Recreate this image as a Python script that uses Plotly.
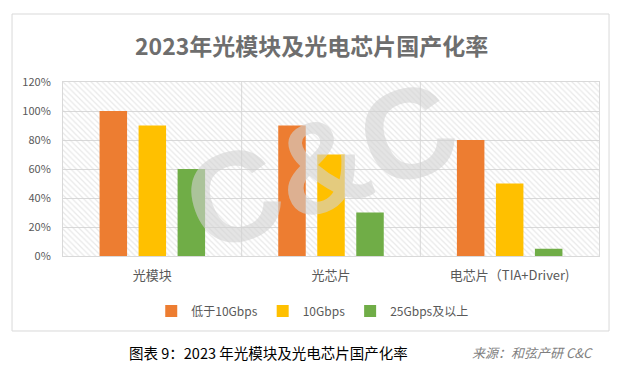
import plotly.graph_objects as go

categories = ["光模块", "光芯片", "电芯片（TIA+Driver)"]
series_names = ["低于10Gbps", "10Gbps", "25Gbps及以上"]
below_10g = [100, 90, 80]
g10 = [90, 70, 50]
g25_plus = [60, 30, 5]
colors = ["#ED7D31", "#FFC000", "#70AD47"]
y_ticks = [0, 20, 40, 60, 80, 100, 120]
y_tick_labels = ["0%", "20%", "40%", "60%", "80%", "100%", "120%"]

FONT = "Noto Sans CJK SC"
GRAY = "#595959"

fig = go.Figure()

# hatched background (base axes)
fig.add_trace(go.Bar(
    x=[1], y=[120], width=[3], xaxis="x", yaxis="y",
    marker=dict(color="rgba(0,0,0,0)", line=dict(width=0),
                pattern=dict(shape="\\", fgcolor="#d2d2d2", bgcolor="rgba(0,0,0,0)",
                             size=4, solidity=0.3)),
    showlegend=False, hoverinfo="skip"))

xs = [0, 1, 2]
for name, vals, col in zip(series_names, [below_10g, g10, g25_plus], colors):
    fig.add_trace(go.Bar(x=xs, y=vals, name=name, marker=dict(color=col, line=dict(width=0)),
                         xaxis="x2", yaxis="y2"))

fig.update_layout(
    width=624, height=372,
    margin=dict(l=55, r=33, t=74, b=124),
    paper_bgcolor="white", plot_bgcolor="rgba(0,0,0,0)",
    barmode="group", bargap=0.345, bargroupgap=0.295,
    font=dict(family=FONT, color=GRAY, size=11),
    xaxis=dict(range=[-0.5, 2.5], tickvals=xs, ticktext=categories, showgrid=False,
               zeroline=False, showline=True, linecolor="#d9d9d9", mirror=True,
               ticks="", tickfont=dict(size=13, color=GRAY), ticklabelstandoff=7),
    yaxis=dict(range=[0, 120], tickvals=y_ticks, ticktext=y_tick_labels, showgrid=True,
               gridcolor="#d9d9d9", zeroline=False, showline=True, linecolor="#d9d9d9",
               mirror=True, ticks="", tickfont=dict(size=11, color=GRAY), ticklabelstandoff=9),
    xaxis2=dict(range=[-0.5, 2.5], overlaying="x", visible=False),
    yaxis2=dict(range=[0, 120], overlaying="y", visible=False),
    legend=dict(orientation="h", x=0.465, xanchor="center", y=-0.316, yanchor="middle",
                font=dict(size=12, color=GRAY), itemwidth=30, tracegroupgap=0,
                bgcolor="rgba(0,0,0,0)"),
    shapes=[
        dict(type="line", xref="x", yref="paper", x0=0.5, x1=0.5, y0=0, y1=1,
             line=dict(color="#d9d9d9", width=1), layer="below"),
        dict(type="line", xref="x", yref="paper", x0=1.5, x1=1.5, y0=0, y1=1,
             line=dict(color="#d9d9d9", width=1), layer="below"),
        dict(type="rect", xref="paper", yref="paper", x0=-0.0951, x1=1.0187, y0=-0.431, y1=1.3908,
             line=dict(color="#d9d9d9", width=1), layer="above"),
    ],
    annotations=[
        dict(text="<b>2023年光模块及光电芯片国产化率</b>", xref="paper", yref="paper",
             x=0.463, y=1.2126, xanchor="center", yanchor="middle", showarrow=False,
             font=dict(size=23, color="#6e6e6e", family=FONT)),
        dict(text="<b>C&C</b>", xref="paper", yref="paper", x=0.48, y=0.52,
             xanchor="center", yanchor="middle", showarrow=False, textangle=-20,
             font=dict(size=128, color="rgba(210,210,210,0.6)", family="Liberation Sans")),
        dict(text="图表 9：2023 年光模块及光电芯片国产化率", xref="paper", yref="paper",
             x=0.383, y=-0.552, xanchor="center", yanchor="middle", showarrow=False,
             font=dict(size=14.5, color="#000000", family=FONT)),
        dict(text="<i>来源：和弦产研 C&C</i>", xref="paper", yref="paper",
             x=0.9925, xanchor="right", y=-0.552, yanchor="middle", showarrow=False,
             font=dict(size=13, color="#7f7f7f", family=FONT)),
    ],
)

fig.write_html("out.html")
